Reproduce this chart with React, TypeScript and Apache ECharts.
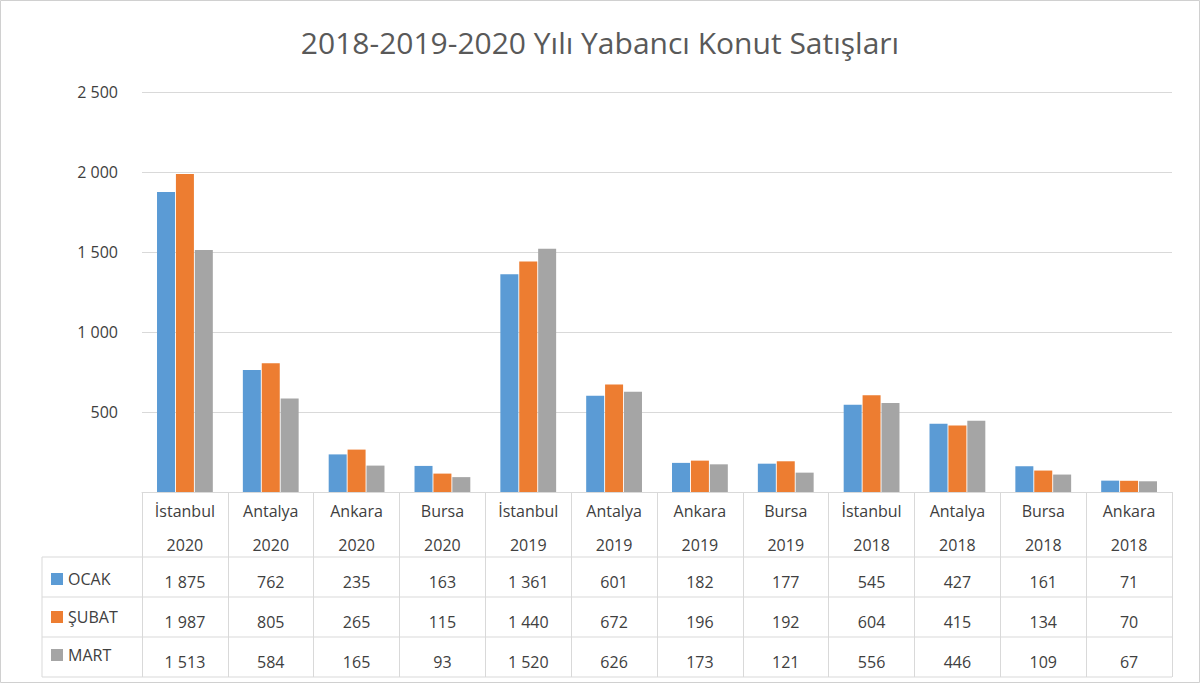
import { useEffect, useRef } from "react";
import * as echarts from "echarts";

const cities = ["İstanbul", "Antalya", "Ankara", "Bursa", "İstanbul", "Antalya", "Ankara", "Bursa", "İstanbul", "Antalya", "Bursa", "Ankara"];
const years = ["2020", "2020", "2020", "2020", "2019", "2019", "2019", "2019", "2018", "2018", "2018", "2018"];
const ocak = [1875, 762, 235, 163, 1361, 601, 182, 177, 545, 427, 161, 71];
const subat = [1987, 805, 265, 115, 1440, 672, 196, 192, 604, 415, 134, 70];
const mart = [1513, 584, 165, 93, 1520, 626, 173, 121, 556, 446, 109, 67];
const seriesNames = ["OCAK", "ŞUBAT", "MART"];
const colors = ["#5B9BD5", "#ED7D31", "#A5A5A5"];

const fmt = (v: number) => String(v).replace(/\B(?=(\d{3})+(?!\d))/g, " ");
const font = "'Open Sans', 'Noto Sans', sans-serif";
const lineColor = "#d9d9d9";

export default function App() {
  const ref = useRef<HTMLDivElement>(null);

  useEffect(() => {
    document.body.style.margin = "0";
    if (!ref.current) return;
    const chart = echarts.init(ref.current, null, { renderer: "svg" });
    const tableLines = [557, 597, 637, 677].map((y) => ({
      type: "line",
      shape: { x1: 42, y1: y, x2: 1172, y2: y },
      style: { stroke: lineColor, lineWidth: 1 },
    }));
    chart.setOption({
      animation: false,
      backgroundColor: "#fff",
      textStyle: { fontFamily: font },
      title: {
        text: "2018-2019-2020 Yılı Yabancı Konut Satışları",
        left: "center",
        top: 22,
        textStyle: { fontSize: 30, fontWeight: "normal", color: "#595959", fontFamily: font },
      },
      legend: {
        orient: "vertical",
        left: 46,
        top: 566,
        itemGap: 22,
        itemWidth: 12,
        itemHeight: 12,
        icon: "rect",
        selectedMode: false,
        textStyle: { fontSize: 16, color: "#404040", fontFamily: font },
      },
      grid: { left: 142, right: 28, top: 92, bottom: 191 },
      xAxis: {
        type: "category",
        data: cities.map((c, i) => i),
        axisLine: { lineStyle: { color: lineColor } },
        axisTick: { show: true, length: 185, lineStyle: { color: lineColor } },
        axisLabel: {
          interval: 0,
          margin: 2,
          formatter: (_v: string, i: number) =>
            `{h|${cities[i]}}\n{h|${years[i]}}\n{v|${fmt(ocak[i])}}\n{v|${fmt(subat[i])}}\n{v|${fmt(mart[i])}}`,
          rich: {
            h: { fontSize: 16, lineHeight: 34, color: "#404040", fontFamily: font },
            v: { fontSize: 16, lineHeight: 40, color: "#404040", fontFamily: font },
          },
        },
      },
      yAxis: {
        type: "value",
        min: 0,
        max: 2500,
        interval: 500,
        axisLine: { show: false },
        axisTick: { show: false },
        axisLabel: {
          margin: 24,
          fontSize: 16,
          color: "#404040",
          formatter: (v: number) => (v === 0 ? "" : fmt(v)),
        },
        splitLine: { lineStyle: { color: lineColor } },
      },
      series: [ocak, subat, mart].map((d, i) => ({
        name: seriesNames[i],
        type: "bar",
        data: d,
        barWidth: 18,
        barGap: "5%",
        itemStyle: { color: colors[i] },
      })),
      graphic: [
        ...tableLines,
        { type: "line", shape: { x1: 42, y1: 557, x2: 42, y2: 677 }, style: { stroke: lineColor, lineWidth: 1 } },
        { type: "rect", shape: { x: 0.5, y: 0.5, width: 1199, height: 682 }, style: { fill: "none", stroke: "#d0d0d0", lineWidth: 1 } },
      ],
    });
    return () => chart.dispose();
  }, []);

  return <div ref={ref} style={{ width: 1200, height: 683 }} />;
}
